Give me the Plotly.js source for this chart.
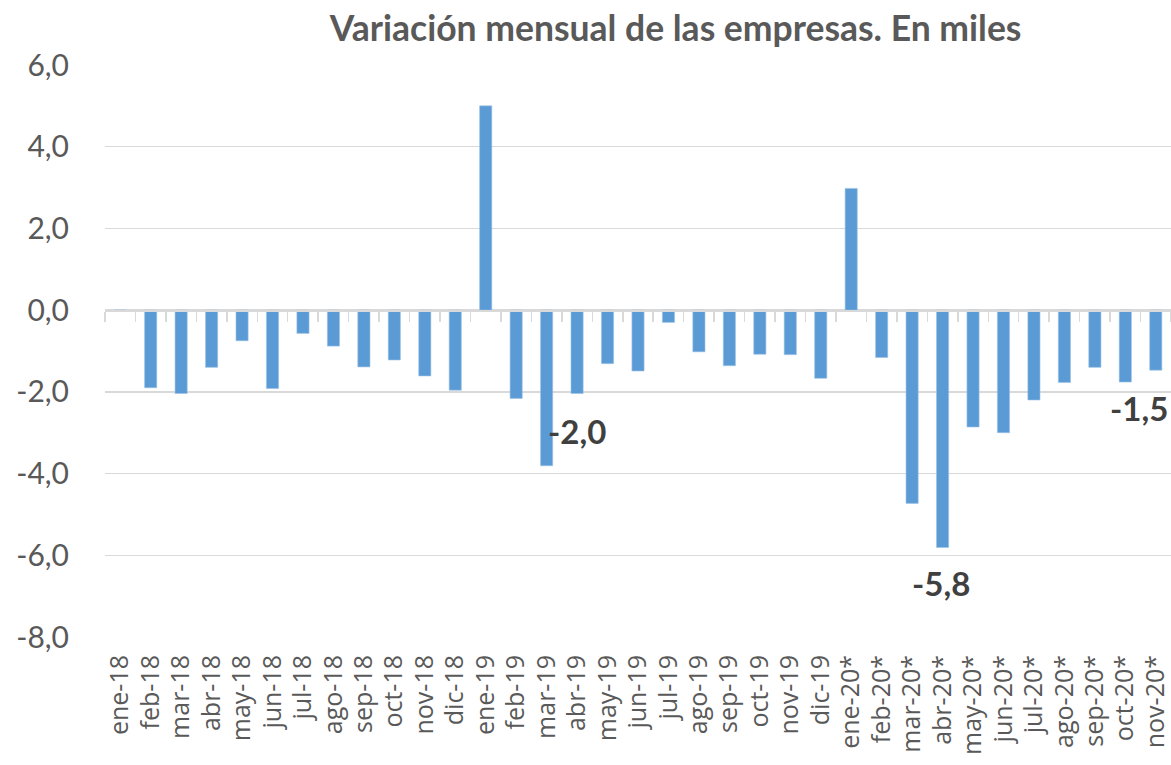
<!DOCTYPE html>
<html>
<head>
<meta charset="utf-8">
<script src="https://cdn.plot.ly/plotly-3.0.1.min.js"></script>
<style>html,body{margin:0;padding:0;background:#fff;}#chart{width:1171px;height:765px;}</style>
</head>
<body>
<div id="chart"></div>
<script>
const categories = ["ene-18","feb-18","mar-18","abr-18","may-18","jun-18","jul-18","ago-18","sep-18","oct-18","nov-18","dic-18",
  "ene-19","feb-19","mar-19","abr-19","may-19","jun-19","jul-19","ago-19","sep-19","oct-19","nov-19","dic-19",
  "ene-20*","feb-20*","mar-20*","abr-20*","may-20*","jun-20*","jul-20*","ago-20*","sep-20*","oct-20*","nov-20*"];
const values = [0, -1.90, -2.04, -1.40, -0.75, -1.92, -0.57, -0.88, -1.39, -1.22, -1.61, -1.96,
  5.00, -2.16, -3.81, -2.04, -1.31, -1.49, -0.30, -1.02, -1.36, -1.08, -1.09, -1.67,
  2.98, -1.16, -4.73, -5.81, -2.86, -3.00, -2.20, -1.77, -1.40, -1.76, -1.47];
const yTicks = [-8, -6, -4, -2, 0, 2, 4, 6];
const labelledCategories = ["abr-19", "abr-20*", "nov-20*"];
const labelY = [-2.95, -6.69, -2.40];
const labelShift = [0, -2, -17];
const titleText = "Variación mensual de las empresas. En miles";

const fmt = v => v.toFixed(1).replace('.', ',');
const annotations = labelledCategories.map((c, i) => ({
  x: c, y: labelY[i], xref: 'x', yref: 'y',
  text: fmt(values[categories.indexOf(c)]),
  showarrow: false, xshift: labelShift[i],
  font: {family: 'Lato, sans-serif', size: 33, color: '#404040', weight: 'bold'}
}));

const grey = '#595959';
const xRange = [-0.5, categories.length - 0.5];
const traces = [
  {type: 'bar', x: categories, y: values, marker: {color: '#5B9BD5', line: {color: '#9DC3E6', width: 0.6}},
   hoverinfo: 'x+y'},
  {type: 'scatter', mode: 'markers', x: categories, y: values, xaxis: 'x2', yaxis: 'y',
   marker: {opacity: 0}, hoverinfo: 'skip', showlegend: false}
];
const layout = {
  width: 1171, height: 765,
  margin: {l: 105, r: 0, t: 65, b: 128},
  paper_bgcolor: '#fff', plot_bgcolor: '#fff',
  showlegend: false,
  bargap: 0.6,
  font: {family: 'Lato, sans-serif', color: grey},
  title: {text: titleText, x: 0.577, xref: 'container', xanchor: 'center',
          y: 0.962, yref: 'container', yanchor: 'middle',
          font: {family: 'Lato, sans-serif', size: 35.5, color: grey, weight: 'bold'}},
  xaxis: {type: 'category', range: xRange, autorange: false, tickangle: -90,
          tickmode: 'array', tickvals: categories, ticktext: categories,
          tickfont: {family: '"Open Sans", sans-serif', size: 25, color: grey},
          ticks: '', showgrid: false, showline: false, zeroline: false, automargin: false,
          ticklabelstandoff: 12},
  xaxis2: {type: 'category', overlaying: 'x', range: xRange, autorange: false, anchor: 'free', position: 8/14,
           side: 'bottom', showticklabels: false, ticks: 'outside', tickson: 'boundaries',
           tickmode: 'array', tickvals: categories,
           ticklen: 10, tickwidth: 1.5, tickcolor: '#d9d9d9', showline: true, linecolor: '#d9d9d9',
           linewidth: 1.5, showgrid: false, zeroline: false},
  yaxis: {range: [-8, 6], autorange: false, tickmode: 'array', tickvals: yTicks, ticktext: yTicks.map(fmt),
          showgrid: true, gridcolor: '#d9d9d9',
          gridwidth: 1.3, zeroline: false, showline: false, ticks: '',
          tickfont: {size: 30, color: grey}, ticklabelstandoff: 35, automargin: false},
  annotations: annotations
};
Plotly.newPlot('chart', traces, layout, {displayModeBar: false, staticPlot: true});
</script>
</body>
</html>
